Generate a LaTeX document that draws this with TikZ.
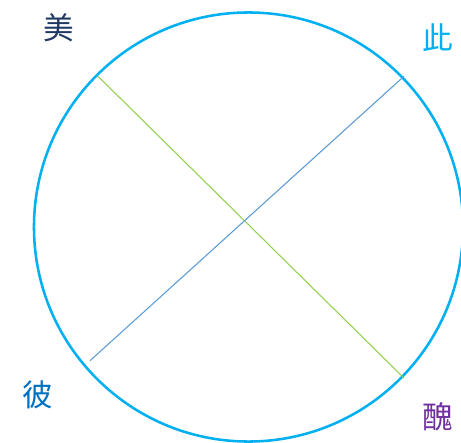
\documentclass[tikz,border=0pt]{standalone}
\usepackage{fontspec}
\newfontfamily\cjkfont{Noto Sans CJK TC}
\definecolor{ringcyan}{HTML}{00B0F0}
\definecolor{navyc}{HTML}{1F3864}
\definecolor{bluec}{HTML}{0070C0}
\definecolor{purplec}{HTML}{7030A0}
\definecolor{greenline}{HTML}{92D050}
\definecolor{blueline}{HTML}{5B9BD5}
\tikzset{
  lbl/.style={font=\cjkfont\fontsize{23}{23}\selectfont, inner sep=0pt},
  ring/.style={draw=ringcyan, line width=1.9pt},
  diag/.style={line width=0.8pt}
}
\begin{document}
\begin{tikzpicture}[x=0.75pt,y=-0.75pt]
\useasboundingbox (0,0) rectangle (461,443);
\coordinate (c) at (248.5,227);
\draw[ring] (c) circle [radius=160.9pt];
\coordinate (g1) at (97.7,76);
\coordinate (g2) at (404,378);
\coordinate (b1) at (90,360.7);
\coordinate (b2) at (404,76.3);
\draw[diag, greenline] (g1) -- (g2);
\draw[diag, blueline] (b1) -- (b2);
\node[lbl, text=navyc] (mei) at (58.7,28.3) {美};
\node[lbl, text=ringcyan] (ci) at (438,38) {此};
\node[lbl, text=bluec] (bi) at (38,395) {彼};
\node[lbl, text=purplec] (chou) at (438,417) {醜};
\end{tikzpicture}
\end{document}
